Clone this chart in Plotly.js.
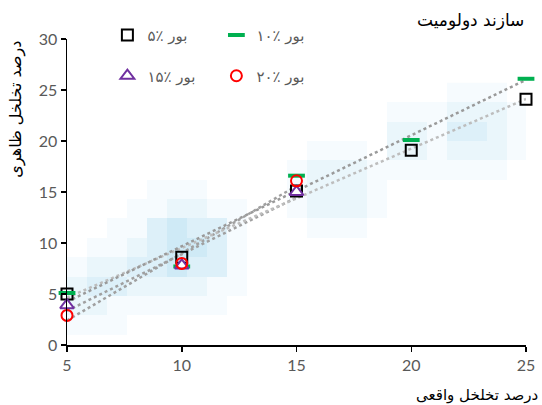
<!DOCTYPE html>
<html><head><meta charset="utf-8">
<script src="https://cdn.plot.ly/plotly-3.0.1.min.js"></script>
<style>body{margin:0;background:#fff;} #chart{width:542px;height:405px;}</style>
</head><body><div id="chart"></div>
<script>
// ---- data ----
const xFull = [5, 10, 15, 20, 25];
const xShort = [5, 10, 15];
const bor5 = [5.0, 8.6, 15.1, 19.1, 24.1];
const bor10 = [5.1, 7.7, 16.6, 20.1, 26.1];
const bor15 = [3.9, 7.8, 15.0];
const bor20 = [2.9, 8.0, 16.1];
const seriesNames = ['بور ٪۵', 'بور ٪۱۰', 'بور ٪۱۵', 'بور ٪۲۰'];
const xTicks = [5, 10, 15, 20, 25];
const yTicks = [0, 5, 10, 15, 20, 25, 30];
const chartTitle = 'سازند دولومیت';
const xTitle = 'درصد تخلخل واقعی';
const yTitle = 'درصد تخلخل ظاهری';
// soft blue background glow (intensity 0-4), rows bottom -> top
const glowGrid = [
  [1,1,1,0,0,0,0,0,0,0,0,0,0,0,0,0,0,0,0,0,0,0,0],
  [2,2,1,1,1,1,1,1,0,0,0,0,0,0,0,0,0,0,0,0,0,0,0],
  [2,3,3,2,2,2,2,1,1,0,0,0,0,0,0,0,0,0,0,0,0,0,0],
  [1,2,2,3,3,4,3,3,1,0,0,0,0,0,0,0,0,0,0,0,0,0,0],
  [0,1,1,2,3,4,4,3,1,0,0,0,0,0,0,0,0,0,0,0,0,0,0],
  [0,0,1,1,3,4,3,3,1,0,0,0,1,1,1,0,0,0,0,0,0,0,0],
  [0,0,0,1,1,2,2,1,1,0,0,1,2,2,2,1,0,0,0,0,0,0,0],
  [0,0,0,0,1,1,1,0,0,0,0,1,2,2,2,1,0,0,0,0,0,0,0],
  [0,0,0,0,0,0,0,0,0,0,0,1,2,2,2,1,1,1,1,1,1,1,0],
  [0,0,0,0,0,0,0,0,0,0,0,0,1,1,1,0,2,2,1,2,2,2,1],
  [0,0,0,0,0,0,0,0,0,0,0,0,0,0,0,0,2,2,1,3,3,2,1],
  [0,0,0,0,0,0,0,0,0,0,0,0,0,0,0,0,1,1,1,2,2,2,1],
  [0,0,0,0,0,0,0,0,0,0,0,0,0,0,0,0,0,0,0,1,1,1,0]
];

function linFit(xs, ys) {
  const n = xs.length;
  const mx = xs.reduce((a,b)=>a+b,0)/n, my = ys.reduce((a,b)=>a+b,0)/n;
  let sxy = 0, sxx = 0;
  for (let i=0;i<n;i++){ sxy += (xs[i]-mx)*(ys[i]-my); sxx += (xs[i]-mx)**2; }
  const b = sxy/sxx, a = my - b*mx;
  const ex = [Math.min(...xs), Math.max(...xs)];
  return {x: ex, y: ex.map(v => a + b*v)};
}

const arabicFont = 'DejaVu Sans';
function trend(xs, ys, color) {
  const f = linFit(xs, ys);
  return {x: f.x, y: f.y, type: 'scatter', mode: 'lines', showlegend: false, hoverinfo: 'skip',
    line: {color: color, width: 2.5, dash: 'dot'}};
}

const data = [
  {type: 'heatmap', z: glowGrid, x0: 5 + 10/22.95, dx: 20/22.95, y0: 19.7/10.2, dy: 19.4/10.2,
   zmin: 0, zmax: 4, showscale: false, hoverinfo: 'skip',
   colorscale: [[0,'rgba(255,255,255,0)'],[0.25,'#f6fbfe'],[0.5,'#eaf6fb'],[0.75,'#ddf0f9'],[1,'#cfeaf6']]},
  trend(xShort, bor20, '#a0a0a0'),
  trend(xShort, bor15, '#a0a0a0'),
  trend(xFull, bor5, '#bdbdbd'),
  trend(xFull, bor10, '#9a9a9a'),
  {x: xFull, y: bor5, name: seriesNames[0], type: 'scatter', mode: 'markers', cliponaxis: false, legend: 'legend',
   marker: {symbol: 'square-open', size: 11, color: '#000', line: {color: '#000', width: 2}}},
  {x: xFull, y: bor10, name: seriesNames[1], type: 'scatter', mode: 'markers', cliponaxis: false, legend: 'legend',
   marker: {symbol: 'line-ew', size: 12, color: '#00b050', line: {color: '#00b050', width: 4}}},
  {x: xShort, y: bor15, name: seriesNames[2], type: 'scatter', mode: 'markers', cliponaxis: false, legend: 'legend2',
   marker: {symbol: 'triangle-up', size: 12, color: '#ffffff', line: {color: '#7030a0', width: 2}}},
  {x: xShort, y: bor20, name: seriesNames[3], type: 'scatter', mode: 'markers', cliponaxis: false, legend: 'legend2',
   marker: {symbol: 'circle-open', size: 11, color: '#ff0000', line: {color: '#ff0000', width: 2}}}
];

const legendBase = {orientation: 'h', xanchor: 'left', yanchor: 'top', bgcolor: 'rgba(0,0,0,0)',
  font: {family: arabicFont, size: 15, color: '#595959'}, entrywidth: 64, entrywidthmode: 'pixels',
  itemwidth: 30, traceorder: 'normal'};

const layout = {
  width: 542, height: 405,
  margin: {l: 67, r: 16, t: 39, b: 60},
  paper_bgcolor: '#fff', plot_bgcolor: 'rgba(0,0,0,0)',
  font: {family: 'Lato', size: 16, color: '#595959'},
  xaxis: {range: [5, 25], tickvals: xTicks, ticks: 'outside', ticklen: 5, tickwidth: 1.5, tickcolor: '#000',
    showline: true, linecolor: '#000', linewidth: 1.5, showgrid: false, zeroline: false,
    tickfont: {family: 'Lato', size: 16, color: '#595959'}},
  yaxis: {range: [0, 30], tickvals: yTicks, ticks: 'outside', ticklen: 5, tickwidth: 1.5, tickcolor: '#000',
    showline: true, linecolor: '#000', linewidth: 1.5, showgrid: false, zeroline: false,
    tickfont: {family: 'Lato', size: 16, color: '#595959'}},
  legend: Object.assign({}, legendBase, {x: 0.088, y: 1.066}),
  legend2: Object.assign({}, legendBase, {x: 0.088, y: 0.933}),
  showlegend: true,
  annotations: [
    {text: chartTitle, xref: 'paper', yref: 'paper', x: 1.0, y: 1.062, xanchor: 'right', yanchor: 'middle',
     showarrow: false, font: {family: arabicFont, size: 17, color: '#000'}},
    {text: xTitle, xref: 'paper', yref: 'paper', x: 1.03, y: -0.163, xanchor: 'right', yanchor: 'middle',
     showarrow: false, font: {family: arabicFont, size: 15, color: '#000'}},
    {text: yTitle, xref: 'paper', yref: 'paper', x: -0.113, y: 1.0, xanchor: 'center', yanchor: 'top',
     textangle: -90, showarrow: false, font: {family: arabicFont, size: 16, color: '#000'}}
  ]
};

Plotly.newPlot('chart', data, layout, {displayModeBar: false, staticPlot: true});
</script>
</body></html>
